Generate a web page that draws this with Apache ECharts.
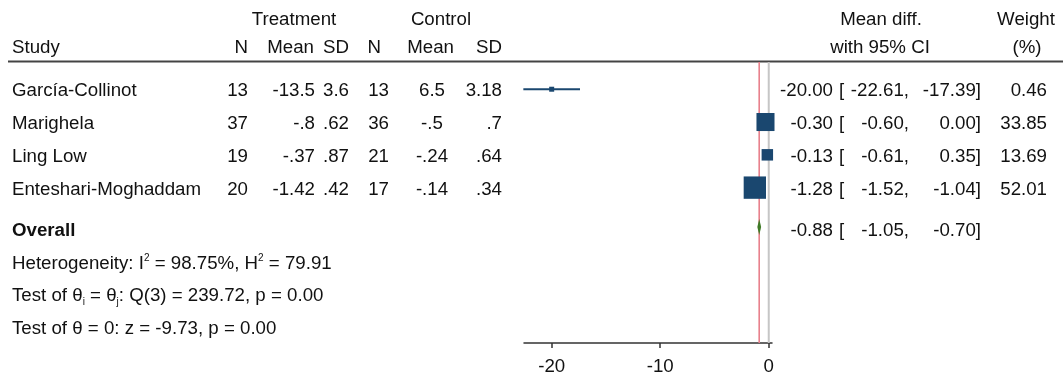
<!DOCTYPE html>
<html>
<head>
<meta charset="utf-8">
<script src="https://cdn.jsdelivr.net/npm/echarts@6/dist/echarts.min.js"></script>
<style>
  html, body { margin: 0; padding: 0; background: #fff; }
  #chart { width: 1064px; height: 376px; }
</style>
</head>
<body>
<div id="chart"></div>
<script>
// ---- Study data -------------------------------------------------------
const studies   = ['García-Collinot', 'Marighela', 'Ling Low', 'Enteshari-Moghaddam'];
const treatN    = [13, 37, 19, 20];
const treatMean = [-13.5, -0.8, -0.37, -1.42];
const treatSD   = [3.6, 0.62, 0.87, 0.42];
const ctrlN     = [13, 36, 21, 17];
const ctrlMean  = [6.5, -0.5, -0.24, -0.14];
const ctrlSD    = [3.18, 0.7, 0.64, 0.34];

// Mean difference with 95% CI, and weight (%)
const meanDiff  = [-20.00, -0.30, -0.13, -1.28];
const ciLow     = [-22.61, -0.60, -0.61, -1.52];
const ciHigh    = [-17.39, 0.00, 0.35, -1.04];
const weights   = [0.46, 33.85, 13.69, 52.01];

// Pooled estimate
const overallLabel = 'Overall';
const overall      = [-0.88, -1.05, -0.70]; // estimate, low, high

const statLines = [
  'Heterogeneity: I{sup|2} = 98.75%, H{sup|2} = 79.91',
  'Test of θ{sub|i} = θ{sub|j}: Q(3) = 239.72, p = 0.00',
  'Test of θ = 0: z = -9.73, p = 0.00'
];

const xTicks = [-20, -10, 0];

// Row positions on the (hidden) vertical axis
const studyRows   = [1, 2, 3, 4];
const overallRow  = 5.2;
const statRows    = [6.3, 7.28, 8.26];

// ---- Styling ---------------------------------------------------------
const FONT  = "'Liberation Sans', Arial, sans-serif";
const NAVY  = '#1a476f';
const GREEN = '#3f7a26';
const INK   = '#111';
const FS    = 18.7;

// Stata-like number display: drop the leading zero (0.62 -> .62, -0.5 -> -.5)
function stataNum(v) {
  return String(v).replace(/^(-?)0\./, '$1.');
}

const chart = echarts.init(document.getElementById('chart'));

function renderStudy(params, api) {
  const row = api.value(0), est = api.value(1), lo = api.value(2), hi = api.value(3), w = api.value(4);
  const pLo = api.coord([lo, row]);
  const pHi = api.coord([hi, row]);
  const pE  = api.coord([est, row]);
  const s = Math.max(5, 3.1 * Math.sqrt(w));
  return {
    type: 'group',
    children: [
      { type: 'line', shape: { x1: pLo[0], y1: pLo[1], x2: pHi[0], y2: pHi[1] },
        style: { stroke: NAVY, lineWidth: 2 } },
      { type: 'rect', shape: { x: pE[0] - s / 2, y: pE[1] - s / 2, width: s, height: s },
        style: { fill: NAVY } }
    ]
  };
}

function renderDiamond(params, api) {
  const row = api.value(0), est = api.value(1), lo = api.value(2), hi = api.value(3);
  const pLo = api.coord([lo, row]);
  const pHi = api.coord([hi, row]);
  const pE  = api.coord([est, row]);
  const h = 8;
  return {
    type: 'polygon',
    shape: { points: [[pLo[0], pLo[1]], [pE[0], pE[1] - h], [pHi[0], pHi[1]], [pE[0], pE[1] + h]] },
    style: { fill: GREEN }
  };
}

function vLine(color, width) {
  return function (params, api) {
    const x = api.coord([api.value(0), overallRow])[0];
    const cs = params.coordSys;
    return {
      type: 'line',
      shape: { x1: x, y1: cs.y, x2: x, y2: cs.y + cs.height },
      style: { stroke: color, lineWidth: width }
    };
  };
}

const studyData = studies.map((s, i) => [studyRows[i], meanDiff[i], ciLow[i], ciHigh[i], weights[i]]);

chart.setOption({
  animation: false,
  backgroundColor: '#fff',
  grid: { left: 524, right: 292, top: 62, bottom: 33, containLabel: false },
  xAxis: {
    type: 'value',
    min: -22.55,
    max: 0.3,
    splitLine: { show: false },
    axisLine: { show: true, onZero: false, lineStyle: { color: '#333', width: 1.5 } },
    axisTick: { show: true, customValues: xTicks, length: 5, lineStyle: { color: '#333', width: 1.5 } },
    axisLabel: { customValues: xTicks, fontSize: FS, fontFamily: FONT, color: INK, margin: 14 }
  },
  yAxis: {
    type: 'value',
    inverse: true,
    min: 0.17,
    max: 8.737,
    show: false
  },
  series: [
    { type: 'custom', z: 1, renderItem: vLine('#c6c6c6', 2), data: [[0]], silent: true },
    { type: 'custom', z: 2, renderItem: vLine('#e8808c', 1.6), data: [[overall[0]]], silent: true },
    { type: 'custom', z: 5, renderItem: renderStudy, data: studyData, silent: true },
    { type: 'custom', z: 6, renderItem: renderDiamond,
      data: [[overallRow, overall[0], overall[1], overall[2]]], silent: true }
  ]
});

// ---- Table text ------------------------------------------------------
function rowY(r) { return chart.convertToPixel({ yAxisIndex: 0 }, r); }

function txt(x, y, text, align, extra) {
  return {
    type: 'text', x: x, y: y, silent: true,
    style: Object.assign({
      text: text, align: align, verticalAlign: 'middle',
      fontSize: FS, fontFamily: FONT, fill: INK
    }, extra || {})
  };
}

const g = [];
// Header
const H1 = 20, H2 = 48;
g.push(txt(294, H1, 'Treatment', 'center'));
g.push(txt(441, H1, 'Control', 'center'));
g.push(txt(881, H1, 'Mean diff.', 'center'));
g.push(txt(1026, H1, 'Weight', 'center'));
g.push(txt(12, H2, 'Study', 'left'));
g.push(txt(248, H2, 'N', 'right'));
g.push(txt(314, H2, 'Mean', 'right'));
g.push(txt(349, H2, 'SD', 'right'));
g.push(txt(381, H2, 'N', 'right'));
g.push(txt(454, H2, 'Mean', 'right'));
g.push(txt(502, H2, 'SD', 'right'));
g.push(txt(880, H2, 'with 95% CI', 'center'));
g.push(txt(1027, H2, '(%)', 'center'));
g.push({
  type: 'line', silent: true,
  shape: { x1: 8, y1: 61.5, x2: 1063, y2: 61.5 },
  style: { stroke: '#444', lineWidth: 2 }
});

function ciTexts(y, est, lo, hi) {
  g.push(txt(833, y, est.toFixed(2), 'right'));
  g.push(txt(839, y, '[', 'left'));
  g.push(txt(909, y, lo.toFixed(2) + ',', 'right'));
  g.push(txt(981, y, hi.toFixed(2) + ']', 'right'));
}

studies.forEach((name, i) => {
  const y = rowY(studyRows[i]) + 2;
  g.push(txt(12, y, name, 'left'));
  g.push(txt(248, y, String(treatN[i]), 'right'));
  g.push(txt(315, y, stataNum(treatMean[i]), 'right'));
  g.push(txt(349, y, stataNum(treatSD[i]), 'right'));
  g.push(txt(389, y, String(ctrlN[i]), 'right'));
  g.push(txt(432, y, stataNum(ctrlMean[i]), 'center'));
  g.push(txt(502, y, stataNum(ctrlSD[i]), 'right'));
  ciTexts(y, meanDiff[i], ciLow[i], ciHigh[i]);
  g.push(txt(1047, y, weights[i].toFixed(2), 'right'));
});

const yo = rowY(overallRow) + 4;
g.push(txt(12, yo, overallLabel, 'left', { fontWeight: 'bold' }));
ciTexts(yo, overall[0], overall[1], overall[2]);

const rich = {
  sup: { fontSize: 10, fontFamily: FONT, fill: INK, verticalAlign: 'top' },
  sub: { fontSize: 10, fontFamily: FONT, fill: INK, verticalAlign: 'bottom' }
};
statLines.forEach((line, i) => {
  g.push(txt(12, rowY(statRows[i]) + 1, line, 'left', { rich: rich, lineHeight: 22 }));
});

chart.setOption({ graphic: { elements: g } });
</script>
</body>
</html>
